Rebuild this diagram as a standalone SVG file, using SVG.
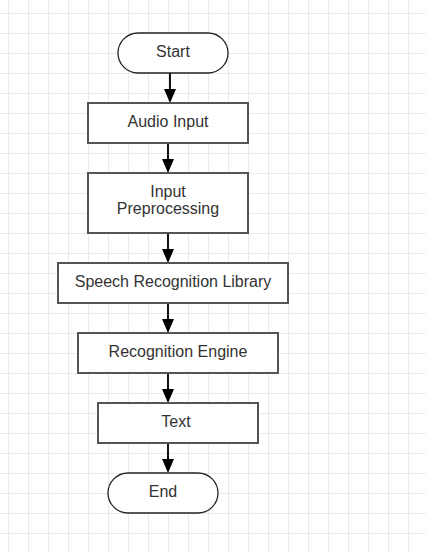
<svg xmlns="http://www.w3.org/2000/svg" width="426" height="552" viewBox="0 0 426 552">
<style>
.box{fill:#ffffff;stroke:#555555;stroke-width:2}
.term{fill:#ffffff;stroke:#222222;stroke-width:1.3}
.lbl{font-family:"Liberation Sans",Arial,sans-serif;font-size:16px;fill:#333333;text-anchor:middle}
.edge{stroke:#111111;stroke-width:2;fill:none}
.head{fill:#000000}
</style>
<defs>
<pattern id="grid" patternUnits="userSpaceOnUse" x="8" y="13" width="20" height="20">
<path d="M0.5 0V20M0 0.5H20" stroke="#ebebeb" stroke-width="1.2" fill="none"/>
</pattern>
</defs>
<rect width="426" height="552" fill="#ffffff"/>
<rect width="426" height="552" fill="url(#grid)"/>
<g id="connectors">
<line class="edge" x1="170" y1="73" x2="170" y2="90"/>
<polygon class="head" points="164,89 176,89 170,103"/>
<line class="edge" x1="168" y1="143" x2="168" y2="160"/>
<polygon class="head" points="162,159 174,159 168,173"/>
<line class="edge" x1="168" y1="233" x2="168" y2="250"/>
<polygon class="head" points="162,249 174,249 168,263"/>
<line class="edge" x1="168" y1="303" x2="168" y2="320"/>
<polygon class="head" points="162,319 174,319 168,333"/>
<line class="edge" x1="168" y1="373" x2="168" y2="390"/>
<polygon class="head" points="162,389 174,389 168,403"/>
<line class="edge" x1="168" y1="443" x2="168" y2="460"/>
<polygon class="head" points="162,459 174,459 168,473"/>
</g>
<g id="start">
<rect class="term" x="118" y="33" width="110" height="40" rx="20" ry="20"/>
<text class="lbl" x="173" y="57">Start</text>
</g>
<g id="audio-input">
<rect class="box" x="88" y="103" width="160" height="40"/>
<text class="lbl" x="168" y="127">Audio Input</text>
</g>
<g id="input-preprocessing">
<rect class="box" x="88" y="173" width="160" height="60"/>
<text class="lbl" x="168" y="197">Input</text>
<text class="lbl" x="168" y="214">Preprocessing</text>
</g>
<g id="speech-recognition-library">
<rect class="box" x="58" y="263" width="230" height="40"/>
<text class="lbl" x="173" y="287">Speech Recognition Library</text>
</g>
<g id="recognition-engine">
<rect class="box" x="78" y="333" width="200" height="40"/>
<text class="lbl" x="178" y="357">Recognition Engine</text>
</g>
<g id="text">
<rect class="box" x="98" y="403" width="160" height="40"/>
<text class="lbl" x="176" y="427">Text</text>
</g>
<g id="end">
<rect class="term" x="108" y="473" width="110" height="40" rx="20" ry="20"/>
<text class="lbl" x="163" y="497">End</text>
</g>
</svg>
